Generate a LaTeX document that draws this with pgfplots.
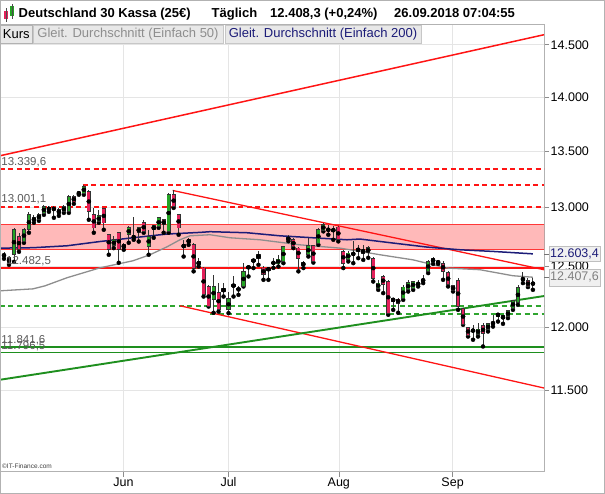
\documentclass[border=0pt]{standalone}
\usepackage{pgfplots}
\pgfplotsset{compat=1.18}
\usepackage{pgfplotstable}
\usepackage{fontspec}
\setmainfont{Liberation Sans}

\definecolor{upgreen}{HTML}{24A324}
\definecolor{downred}{HTML}{E3205A}
\definecolor{lred}{HTML}{FF1414}
\definecolor{lgreen}{HTML}{1E8F1E}
\definecolor{dgreen}{HTML}{2FA52F}
\definecolor{band}{HTML}{FFB9B9}
\definecolor{navy200}{HTML}{1C1C78}
\definecolor{gray50}{HTML}{8E8E8E}
\definecolor{gridc}{HTML}{E5E5E5}
\definecolor{labgray}{HTML}{5A5A5A}

% daily candles, i = trading day index
\pgfplotstableread{
i o h l c
0 12587 12621 12562 12596
1 12570 12587 12511 12528
2 12596 12826 12536 12809
3 12751 12783 12621 12638
4 12708 12826 12697 12809
5 12809 12964 12783 12938
6 12880 12938 12869 12912
7 12901 12955 12886 12938
8 12952 13025 12938 13010
9 12998 13016 12964 12981
10 12996 13010 12912 12981
11 12947 12998 12929 12981
12 12966 13025 12955 13010
13 12966 13113 12955 13098
14 13098 13113 13034 13049
15 13122 13142 13113 13131
16 13128 13201 13113 13186
17 13142 13157 12895 12966
18 12938 12998 12783 12824
19 12880 12981 12869 12929
20 12990 12998 12809 12867
21 12766 12766 12596 12638
22 12672 12751 12652 12723
23 12783 12792 12528 12638
24 12655 12697 12638 12680
25 12766 12843 12697 12826
26 12740 12921 12723 12751
27 12783 12835 12708 12826
28 12869 12895 12783 12792
29 12666 12809 12596 12751
30 12809 12843 12740 12843
31 12835 12912 12826 12912
32 12895 12895 12783 12852
33 12795 13131 12783 13113
34 13113 13157 12998 13010
35 12938 12938 12766 12824
36 12680 12723 12581 12661
37 12700 12740 12680 12723
38 12680 12697 12456 12484
39 12511 12570 12497 12539
40 12484 12497 12248 12262
41 12331 12345 12166 12166
42 12221 12428 12115 12331
43 12281 12361 12125 12139
44 12289 12361 12248 12311
45 12139 12289 12112 12229
46 12331 12414 12248 12345
47 12303 12331 12262 12311
48 12331 12528 12331 12456
49 12484 12503 12414 12497
50 12539 12553 12484 12553
51 12567 12624 12511 12596
52 12484 12503 12386 12428
53 12464 12497 12386 12484
54 12525 12570 12486 12530
55 12519 12596 12497 12559
56 12539 12672 12525 12666
57 12717 12766 12711 12746
58 12723 12737 12652 12666
59 12652 12666 12456 12568
60 12503 12539 12484 12530
61 12596 12740 12581 12672
62 12672 12680 12530 12539
63 12695 12824 12680 12809
64 12803 12867 12795 12852
65 12803 12852 12766 12815
66 12795 12837 12723 12815
67 12832 12843 12709 12723
68 12624 12638 12484 12525
69 12559 12624 12539 12610
70 12596 12709 12525 12610
71 12652 12680 12567 12624
72 12638 12680 12553 12610
73 12613 12672 12570 12655
74 12567 12581 12372 12400
75 12317 12386 12303 12359
76 12414 12428 12276 12345
77 12372 12386 12099 12112
78 12207 12237 12139 12235
79 12227 12237 12115 12194
80 12235 12345 12221 12326
81 12303 12386 12289 12364
82 12317 12378 12303 12372
83 12345 12386 12331 12359
84 12372 12428 12359 12392
85 12456 12553 12442 12539
86 12567 12576 12519 12530
87 12528 12553 12519 12539
88 12525 12539 12386 12456
89 12447 12456 12331 12345
90 12336 12345 12289 12299
91 12378 12400 12139 12166
92 12147 12153 12018 12022
93 11994 12004 11924 11934
94 11964 12018 11898 11978
95 11942 12031 11924 11984
96 12010 12031 11845 11946
97 11978 12036 11964 12026
98 12026 12099 12004 12036
99 12085 12112 12044 12112
100 12066 12099 12026 12091
101 12083 12139 12072 12133
102 12149 12221 12139 12217
103 12201 12345 12180 12322
104 12384 12447 12359 12400
105 12378 12400 12326 12331
106 12343 12400 12303 12366
}\candles

% Gleit. Durchschnitt 50
\pgfplotstableread{
x y
-0.80 12295
5.81 12311
8.22 12336
12.63 12403
19.24 12486
25.85 12545
29.26 12596
32.67 12663
35.27 12723
37.27 12757
41.28 12766
45.29 12740
51.30 12723
59.32 12680
67.33 12652
75.35 12596
81.96 12553
88.78 12484
95.39 12470
102.00 12420
106.00 12407.6
}\smafifty

% Gleit. Durchschnitt 200
\pgfplotstableread{
x y
-0.80 12652
5.81 12655
12.63 12672
19.24 12708
25.85 12740
32.67 12772
39.28 12786
41.28 12792
48.70 12783
55.31 12757
61.92 12740
68.74 12723
71.34 12729
77.96 12695
84.77 12661
91.38 12638
97.99 12624
106.00 12603.4
}\smatwohundred

\begin{document}
\begin{tikzpicture}[x=1pt,y=1pt]
\useasboundingbox (0,0) rectangle (605,494);
\begin{axis}[
    at={(0pt,22pt)}, anchor=south west,
    scale only axis, width=544pt, height=447pt,
    ymode=log,
    xmin=-0.8, xmax=108.22,
    ymin=10890, ymax=14696,
    xtick={23.95,45,67.1,89.9},
    xticklabels={Jun,Jul,Aug,Sep},
    ytick={11500,12000,12500,13000,13500,14000,14500},
    yticklabels={11.500,12.000,12.500,13.000,13.500,14.000,14.500},
    yminorticks=false,
    xtick pos=left, ytick pos=right, yticklabel pos=right,
    tick align=outside, major tick length=5pt,
    tick style={black!45, line width=0.6pt},
    grid=major, grid style={gridc, line width=0.6pt},
    axis line style={black!30, line width=0.8pt},
    ticklabel style={font=\fontsize{12.5}{14}\selectfont, text=black},
    yticklabel style={inner sep=1.5pt},
    xticklabel style={inner sep=1pt},
    clip mode=individual,
]

% Widerstandszone
\addplot[fill=band, draw=lred!85, line width=0.6pt]
    coordinates {(-0.8,12644) (108.22,12644) (108.22,12856) (-0.8,12856)} -- cycle;

% horizontale Marken
\addplot[color=lred, line width=1.7pt, dash pattern=on 5pt off 3.5pt] coordinates {(-0.8,13339.6) (108.22,13339.6)};
\addplot[color=lred, line width=1.7pt, dash pattern=on 5pt off 3.5pt] coordinates {(15.8,13200) (108.22,13200)};
\addplot[color=lred, line width=2pt, dash pattern=on 5pt off 3.5pt] coordinates {(-0.8,13003) (108.22,13003)};
\addplot[color=lred, line width=1.7pt] coordinates {(-0.8,12482.5) (108.22,12482.5)};
\addplot[color=dgreen, line width=1.7pt, dash pattern=on 5pt off 3.5pt] coordinates {(-0.8,12168) (108.22,12168)};
\addplot[color=dgreen, line width=1.7pt, dash pattern=on 5pt off 3.5pt] coordinates {(41.3,12106) (108.22,12106)};
\addplot[color=lgreen, line width=1.8pt] coordinates {(-0.8,11841.6) (108.22,11841.6)};
\addplot[color=lgreen, line width=1.8pt] coordinates {(-0.8,11796.5) (108.22,11796.5)};

% Trendlinien
\addplot[color=lred, line width=1.5pt] coordinates {(-0.8,13460) (108.22,14599)};
\addplot[color=lred, line width=1.3pt] coordinates {(33.8,13151) (108.22,12470)};
\addplot[color=lred, line width=1.3pt] coordinates {(35.3,12172) (108.22,11519)};
\addplot[color=lgreen, line width=1.9pt] coordinates {(-0.8,11583) (108.22,12252)};

% gleitende Durchschnitte
\addplot[color=gray50, line width=1.3pt] table[x=x, y=y] {\smafifty};
\addplot[color=navy200, line width=1.5pt] table[x=x, y=y] {\smatwohundred};

% Dochte
\addplot[only marks, mark=none,
    error bars/.cd, y dir=both, y explicit, error mark=none,
    error bar style={black!80, line width=0.9pt}]
    table[x=i, y=l, y error plus expr={\thisrow{h}-\thisrow{l}}, y error minus expr={0}] {\candles};
% Kerzenkoerper steigend
\addplot[only marks, mark=none,
    restrict expr to domain={\thisrow{c}-\thisrow{o}}{0:100000},
    error bars/.cd, y dir=both, y explicit, error mark=none,
    error bar style={black!80, line width=4.1pt}]
    table[x=i, y expr={(\thisrow{o}+\thisrow{c})/2}, y error expr={abs(\thisrow{c}-\thisrow{o})/2+4}] {\candles};
\addplot[only marks, mark=none,
    restrict expr to domain={\thisrow{c}-\thisrow{o}}{0:100000},
    error bars/.cd, y dir=both, y explicit, error mark=none,
    error bar style={upgreen, line width=2.7pt}]
    table[x=i, y expr={(\thisrow{o}+\thisrow{c})/2}, y error expr={max(abs(\thisrow{c}-\thisrow{o})/2-3,1.5)}] {\candles};
% Kerzenkoerper fallend
\addplot[only marks, mark=none,
    restrict expr to domain={\thisrow{o}-\thisrow{c}}{0.5:100000},
    error bars/.cd, y dir=both, y explicit, error mark=none,
    error bar style={black!80, line width=4.1pt}]
    table[x=i, y expr={(\thisrow{o}+\thisrow{c})/2}, y error expr={abs(\thisrow{c}-\thisrow{o})/2+4}] {\candles};
\addplot[only marks, mark=none,
    restrict expr to domain={\thisrow{o}-\thisrow{c}}{0.5:100000},
    error bars/.cd, y dir=both, y explicit, error mark=none,
    error bar style={downred, line width=2.7pt}]
    table[x=i, y expr={(\thisrow{o}+\thisrow{c})/2}, y error expr={max(abs(\thisrow{c}-\thisrow{o})/2-3,1.5)}] {\candles};

% Beschriftung der Marken
\begin{scope}[every node/.style={anchor=south west, inner sep=0pt, text=labgray, font=\fontsize{11.5}{13}\selectfont}]
\node[yshift=2.5pt] at (axis cs:-0.55,13339.6) {13.339,6};
\node[yshift=3.5pt] at (axis cs:-0.55,13001.1) {13.001,1};
\node[yshift=2.5pt] at (axis cs:0.4,12482.5) {12.482,5};
\node[yshift=2pt] at (axis cs:-0.55,11841.6) {11.841,6};
\node[yshift=1.5pt] at (axis cs:-0.55,11796.5) {11.796,5};
\end{scope}

\coordinate (v200) at (axis cs:108.22,12603.4);
\coordinate (v50) at (axis cs:108.22,12407.6);
\end{axis}

% Werte rechts
\draw[black!55, line width=0.6pt] (v200) -- ++(5,0);
\draw[black!55, line width=0.6pt] (v50) -- ++(5,0);
\node[anchor=west, fill=black!6, draw=black!25, inner sep=1.5pt, minimum height=15pt,
      text=navy200, font=\fontsize{12.5}{14}\selectfont] at ([xshift=4.5pt]v200) {12.603,4};
\node[anchor=west, fill=black!6, draw=black!25, inner sep=1.5pt, minimum height=17pt,
      text=black!50, font=\fontsize{12.5}{14}\selectfont] at ([xshift=4.5pt]v50) {12.407,6};

% Kopfzeile
\fill[downred] (4,475) rectangle (8,483);
\draw[black!70, line width=0.5pt] (6,472) -- (6,486);
\fill[upgreen] (10,478) rectangle (14,488);
\draw[black!70, line width=0.5pt] (12,475) -- (12,490);
\begin{scope}[every node/.style={anchor=base west, inner sep=0pt, font=\bfseries\fontsize{13}{15}\selectfont}]
\node at (18.5,476.5) {Deutschland 30 Kassa (25€)};
\node at (211.5,476.5) {Täglich};
\node at (270,476.5) {12.408,3 (+0,24\%)};
\node at (394,476.5) {26.09.2018 07:04:55};
\end{scope}

% Legende
\begin{scope}[every node/.style={inner sep=0pt, font=\fontsize{13}{15}\selectfont}]
\draw[fill=black!9, draw=black!30, line width=0.5pt] (0.5,451) rectangle (32,468.5);
\node[text=black] at (16.25,459.5) {Kurs};
\draw[fill=black!9, draw=black!22, line width=0.5pt] (33,451) rectangle (223,468.5);
\node[text=gray50] at (128,459.5) {Gleit. Durchschnitt (Einfach 50)};
\draw[fill=black!9, draw=black!22, line width=0.5pt] (225,451) rectangle (421,468.5);
\node[text=navy200] at (323,459.5) {Gleit. Durchschnitt (Einfach 200)};
\end{scope}

\node[anchor=west, inner sep=0pt, text=black!75, font=\fontsize{6.5}{7}\selectfont] at (2,28) {©IT-Finance.com};

\draw[black!30, line width=0.8pt] (0.4,0.4) rectangle (604.6,493.6);
\end{tikzpicture}
\end{document}
